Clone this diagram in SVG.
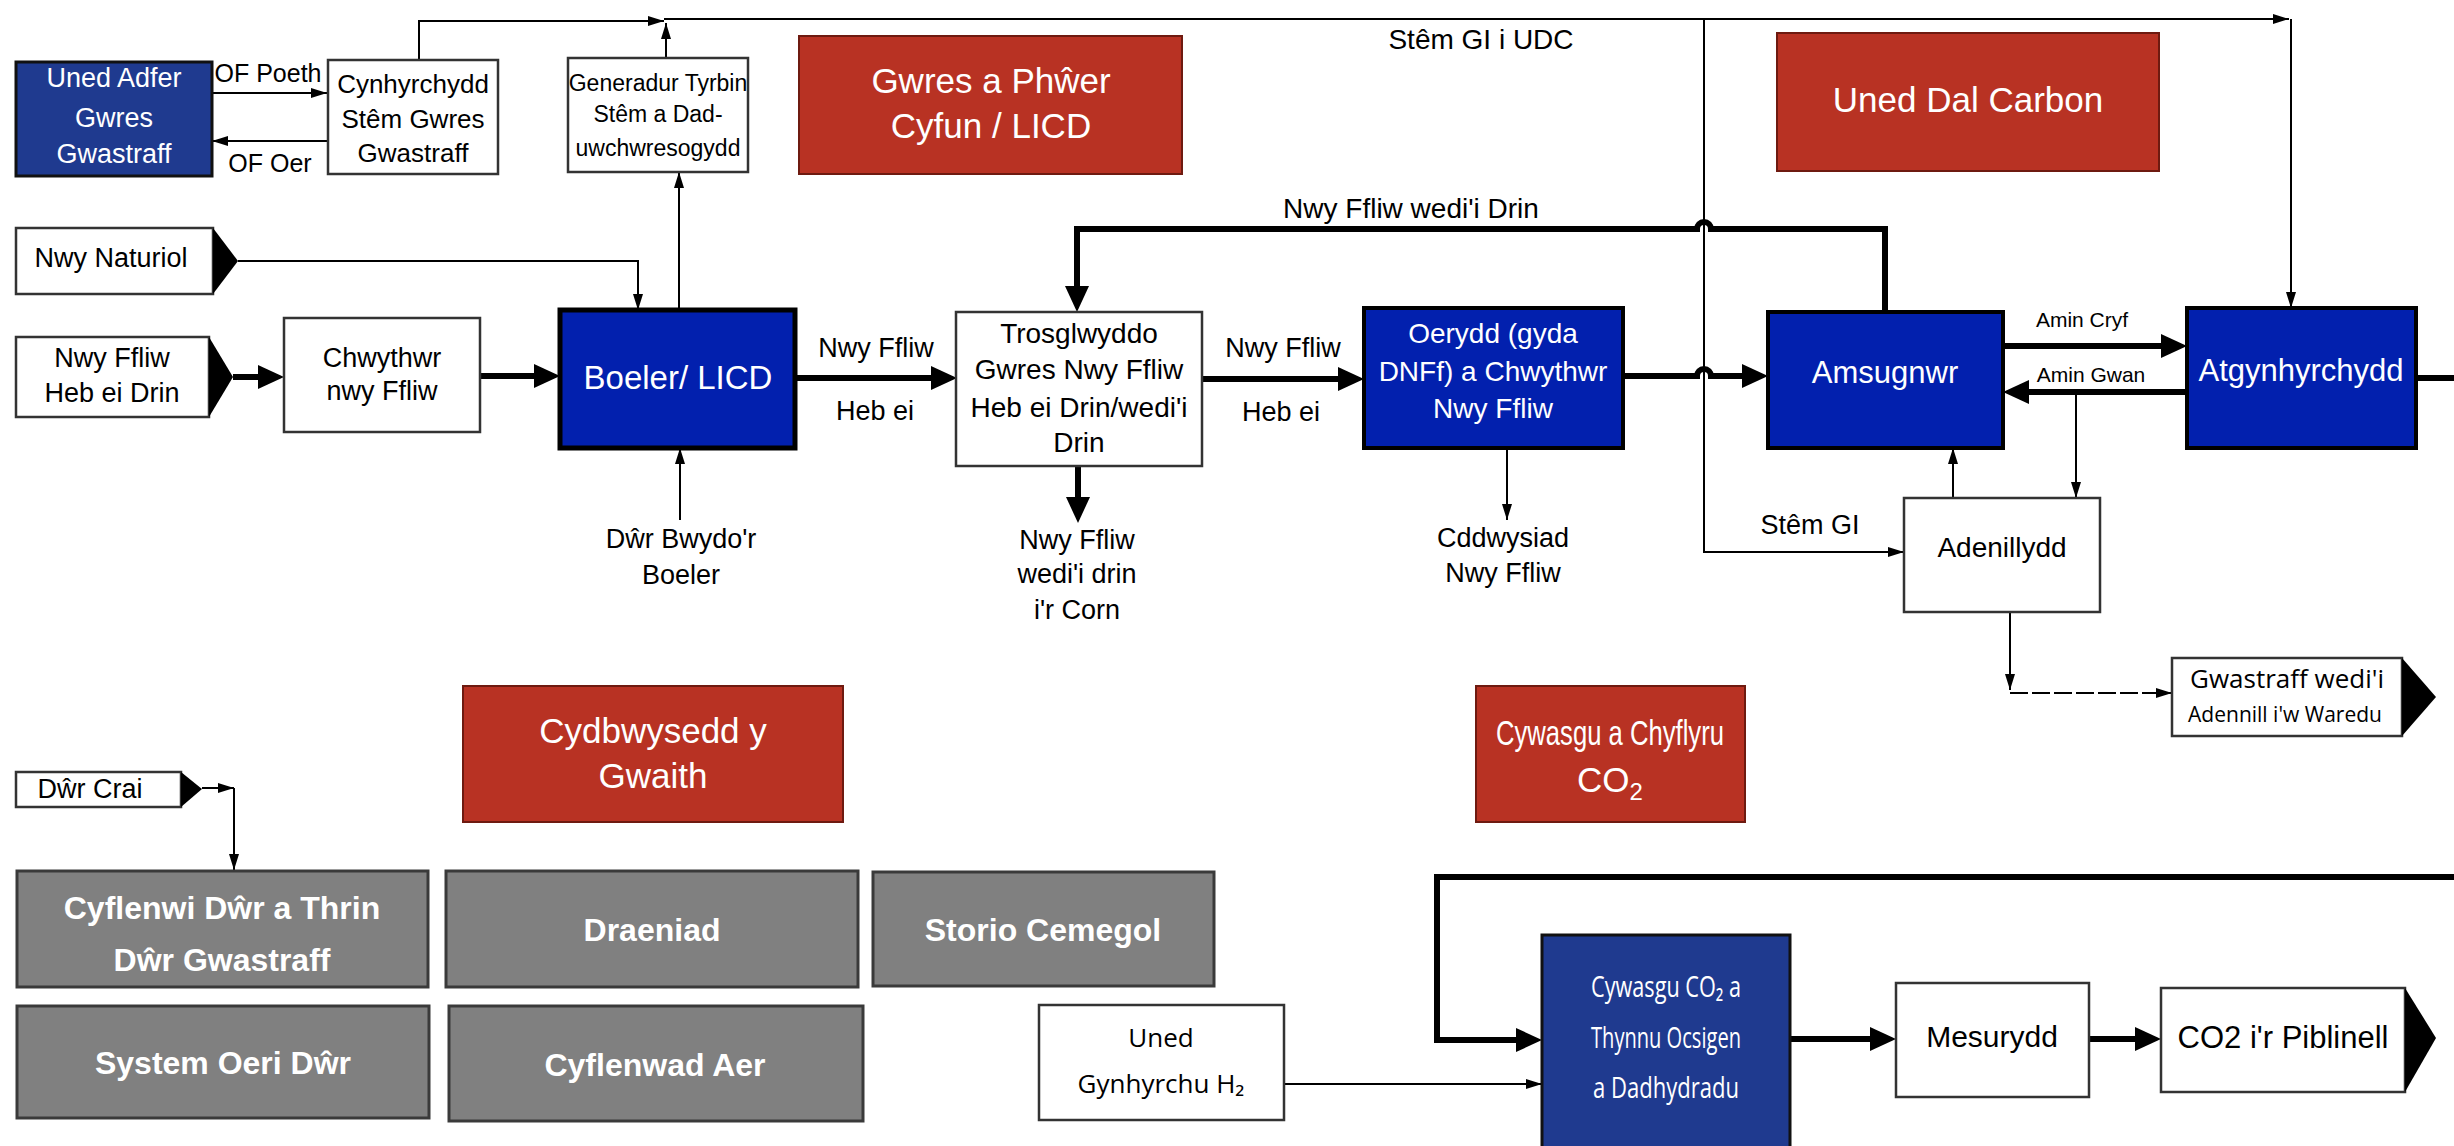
<svg xmlns="http://www.w3.org/2000/svg" width="2454" height="1146" viewBox="0 0 2454 1146">
<style>
text{font-family:"Liberation Sans",Arial,sans-serif;font-size:27px;fill:#000;text-anchor:middle}
.w{fill:#fff}
.box{fill:#fff;stroke:#333;stroke-width:2.5}
.blue{fill:#0220AE;stroke:#000;stroke-width:4}
.navy{fill:#1F3A8F;stroke:#111;stroke-width:3}
.red{fill:#B83223;stroke:#6e1a10;stroke-width:2}
.gray{fill:#808080;stroke:#3a3a3a;stroke-width:3}
.tri{fill:#000}
.thin{fill:none;stroke:#000;stroke-width:2}
.thick{fill:none;stroke:#000;stroke-width:6}
.rt{font-size:35px;fill:#fff}
.gt{font-weight:bold;font-size:32px;fill:#fff}
.os{font-family:"Open Sans","Liberation Sans",sans-serif}
</style>
<defs>
<marker id="ah" viewBox="0 0 16 10" refX="16" refY="5" markerWidth="16" markerHeight="10" markerUnits="userSpaceOnUse" orient="auto"><path d="M0,0L16,5L0,10z"/></marker>
<marker id="AH" viewBox="0 0 26 24" refX="18" refY="12" markerWidth="26" markerHeight="24" markerUnits="userSpaceOnUse" orient="auto"><path d="M0,0L26,12L0,24z"/></marker>
</defs>

<g id="connectors">
<path class="thin" marker-end="url(#ah)" d="M212,93H327"/>
<path class="thin" marker-end="url(#ah)" d="M328,141H212"/>
<path class="thin" marker-end="url(#ah)" d="M419,60V21H664"/>
<path class="thin" marker-end="url(#ah)" d="M666,58V23"/>
<path class="thin" marker-end="url(#ah)" d="M664,19H2289"/>
<path class="thin" marker-end="url(#ah)" d="M2291,19V308"/>
<path class="thin" marker-end="url(#ah)" d="M1704,19V552H1904"/>
<path class="thin" marker-end="url(#ah)" d="M238,261H638V310"/>
<path class="thin" marker-end="url(#ah)" d="M679,310V172"/>
<path class="thin" marker-end="url(#ah)" d="M680,520V448"/>
<path class="thin" marker-end="url(#ah)" d="M1507,448V520"/>
<path class="thin" marker-end="url(#ah)" d="M1953,498V448"/>
<path class="thin" marker-end="url(#ah)" d="M2076,392V498"/>
<path class="thin" marker-end="url(#ah)" d="M2010,612V690"/>
<path class="thin" marker-end="url(#ah)" stroke-dasharray="18,4" d="M2010,693H2172"/>
<path class="thin" marker-end="url(#ah)" d="M202,788H234"/>
<path class="thin" marker-end="url(#ah)" d="M234,788V870"/>
<path class="thin" marker-end="url(#ah)" d="M1284,1084H1542"/>

<path class="thick" marker-end="url(#AH)" d="M233,377H276"/>
<path class="thick" marker-end="url(#AH)" d="M480,376H552"/>
<path class="thick" marker-end="url(#AH)" d="M795,378H949"/>
<path class="thick" marker-end="url(#AH)" d="M1078,466V515"/>
<path class="thick" marker-end="url(#AH)" d="M1202,379H1356"/>
<path class="thick" marker-end="url(#AH)" d="M1623,376H1697A7,7 0 0 1 1711,376H1760"/>
<path class="thick" marker-end="url(#AH)" d="M1885,312V229H1711A7,7 0 0 0 1697,229H1077V304"/>
<path class="thick" marker-end="url(#AH)" d="M2003,346H2179"/>
<path class="thick" marker-end="url(#AH)" d="M2187,392H2011"/>
<path class="thick" d="M2416,378H2454"/>
<path class="thick" marker-end="url(#AH)" d="M2454,877H1437V1040H1534"/>
<path class="thick" marker-end="url(#AH)" d="M1790,1039H1888"/>
<path class="thick" marker-end="url(#AH)" d="M2089,1039H2153"/>

<text x="268" y="82" style="font-size:25px">OF Poeth</text>
<text x="270" y="172" style="font-size:25px">OF Oer</text>
<text x="1481" y="49" style="font-size:28px">Stêm GI i UDC</text>
<text x="1411" y="218" style="font-size:28px">Nwy Ffliw wedi'i Drin</text>
<text x="876" y="357">Nwy Ffliw</text>
<text x="875" y="420">Heb ei</text>
<text x="1283" y="357">Nwy Ffliw</text>
<text x="1281" y="421">Heb ei</text>
<text x="681" y="548">Dŵr Bwydo'r</text>
<text x="681" y="584">Boeler</text>
<text x="1077" y="549">Nwy Ffliw</text>
<text x="1077" y="583">wedi'i drin</text>
<text x="1077" y="619">i'r Corn</text>
<text x="1503" y="547">Cddwysiad</text>
<text x="1503" y="582">Nwy Ffliw</text>
<text x="1810" y="534">Stêm GI</text>
<text x="2082" y="327" style="font-size:21px">Amin Cryf</text>
<text x="2091" y="382" style="font-size:21px">Amin Gwan</text>
</g>

<g id="uned-adfer"><rect class="navy" x="16" y="62" width="196" height="114"/>
<text class="w" x="114" y="87">Uned Adfer</text><text class="w" x="114" y="127">Gwres</text><text class="w" x="114" y="163">Gwastraff</text></g>
<g id="cynhyrchydd"><rect class="box" x="328" y="60" width="170" height="114"/>
<text x="413" y="93" style="font-size:26px">Cynhyrchydd</text><text x="413" y="128" style="font-size:26px">Stêm Gwres</text><text x="413" y="162" style="font-size:26px">Gwastraff</text></g>
<g id="generadur"><rect class="box" x="568" y="58" width="180" height="114"/>
<text x="658" y="91" style="font-size:23px">Generadur Tyrbin</text><text x="658" y="122" style="font-size:23px">Stêm a Dad-</text><text x="658" y="156" style="font-size:23px">uwchwresogydd</text></g>
<g id="gwres-phwer"><rect class="red" x="799" y="36" width="383" height="138"/>
<text class="rt" x="991" y="93">Gwres a Phŵer</text><text class="rt" x="991" y="138">Cyfun / LICD</text></g>
<g id="uned-dal-carbon"><rect class="red" x="1777" y="33" width="382" height="138"/>
<text class="rt" x="1968" y="112">Uned Dal Carbon</text></g>
<g id="nwy-naturiol"><rect class="box" x="16" y="228" width="197" height="66"/><path class="tri" d="M213,228L238,261L213,294z"/>
<text x="111" y="267">Nwy Naturiol</text></g>
<g id="nwy-ffliw-heb"><rect class="box" x="16" y="337" width="193" height="80"/><path class="tri" d="M209,337L233,377L209,417z"/>
<text x="112" y="367">Nwy Ffliw</text><text x="112" y="402">Heb ei Drin</text></g>
<g id="chwythwr"><rect class="box" x="284" y="318" width="196" height="114"/>
<text x="382" y="367">Chwythwr</text><text x="382" y="400">nwy Ffliw</text></g>
<g id="boeler"><rect class="blue" x="560" y="310" width="235" height="138" style="stroke-width:5"/>
<text class="w" x="678" y="389" style="font-size:33px">Boeler/ LICD</text></g>
<g id="trosglwyddo"><rect class="box" x="956" y="312" width="246" height="154"/>
<text x="1079" y="343" style="font-size:28px">Trosglwyddo</text><text x="1079" y="379" style="font-size:28px">Gwres Nwy Ffliw</text><text x="1079" y="417" style="font-size:28px">Heb ei Drin/wedi'i</text><text x="1079" y="452" style="font-size:28px">Drin</text></g>
<g id="oerydd"><rect class="blue" x="1364" y="308" width="259" height="140"/>
<text class="w" x="1493" y="343" style="font-size:28px">Oerydd (gyda</text><text class="w" x="1493" y="381" style="font-size:28px">DNFf) a Chwythwr</text><text class="w" x="1493" y="418" style="font-size:28px">Nwy Ffliw</text></g>
<g id="amsugnwr"><rect class="blue" x="1768" y="312" width="235" height="136"/>
<text class="w" x="1885" y="383" style="font-size:31px">Amsugnwr</text></g>
<g id="atgynhyrchydd"><rect class="blue" x="2187" y="308" width="229" height="140"/>
<text class="w" x="2301" y="381" style="font-size:31px">Atgynhyrchydd</text></g>
<g id="adenillydd"><rect class="box" x="1904" y="498" width="196" height="114"/>
<text x="2002" y="557" style="font-size:28px">Adenillydd</text></g>
<g id="gwastraff-adennill"><rect class="box" x="2172" y="658" width="230" height="78"/><path class="tri" d="M2402,658L2436,697L2402,736z"/>
<text class="os" x="2287" y="688" style="font-size:26px">Gwastraff wedi'i</text><text class="os" x="2285" y="722" style="font-size:21px">Adennill i'w Waredu</text></g>
<g id="cydbwysedd"><rect class="red" x="463" y="686" width="380" height="136"/>
<text class="rt" x="653" y="743">Cydbwysedd y</text><text class="rt" x="653" y="788">Gwaith</text></g>
<g id="cywasgu-chyflyru"><rect class="red" x="1476" y="686" width="269" height="136"/>
<text class="rt" x="1610" y="745" textLength="228" lengthAdjust="spacingAndGlyphs">Cywasgu a Chyflyru</text><text class="rt" x="1610" y="792">CO<tspan style="font-size:24px" dy="8">2</tspan></text></g>
<g id="dwr-crai"><rect class="box" x="16" y="772" width="165" height="35"/><path class="tri" d="M181,772L202,789L181,807z"/>
<text x="90" y="798">Dŵr Crai</text></g>
<g id="cyflenwi-dwr"><rect class="gray" x="17" y="871" width="411" height="116"/>
<text class="gt" x="222" y="919">Cyflenwi Dŵr a Thrin</text><text class="gt" x="222" y="971">Dŵr Gwastraff</text></g>
<g id="draeniad"><rect class="gray" x="446" y="871" width="412" height="116"/>
<text class="gt" x="652" y="941">Draeniad</text></g>
<g id="storio"><rect class="gray" x="873" y="872" width="341" height="114"/>
<text class="gt" x="1043" y="941">Storio Cemegol</text></g>
<g id="system-oeri"><rect class="gray" x="17" y="1006" width="412" height="112"/>
<text class="gt" x="223" y="1074">System Oeri Dŵr</text></g>
<g id="cyflenwad-aer"><rect class="gray" x="449" y="1006" width="414" height="115"/>
<text class="gt" x="655" y="1076">Cyflenwad Aer</text></g>
<g id="uned-h2"><rect class="box" x="1039" y="1005" width="245" height="115"/>
<text class="os" x="1161" y="1047" style="font-size:26px">Uned</text><text class="os" x="1161" y="1093" style="font-size:26px">Gynhyrchu H₂</text></g>
<g id="cywasgu-co2"><rect class="navy" x="1542" y="935" width="248" height="215"/>
<text class="os w" x="1666" y="997" style="font-size:29px" textLength="150" lengthAdjust="spacingAndGlyphs">Cywasgu CO₂ a</text><text class="os w" x="1666" y="1048" style="font-size:29px" textLength="150" lengthAdjust="spacingAndGlyphs">Thynnu Ocsigen</text><text class="os w" x="1666" y="1098" style="font-size:29px" textLength="146" lengthAdjust="spacingAndGlyphs">a Dadhydradu</text></g>
<g id="mesurydd"><rect class="box" x="1896" y="983" width="193" height="114"/>
<text x="1992" y="1047" style="font-size:30px">Mesurydd</text></g>
<g id="co2-piblinell"><rect class="box" x="2161" y="988" width="244" height="104"/><path class="tri" d="M2405,988L2436,1038L2405,1092z"/>
<text x="2283" y="1048" style="font-size:31px">CO2 i'r Piblinell</text></g>
</svg>
